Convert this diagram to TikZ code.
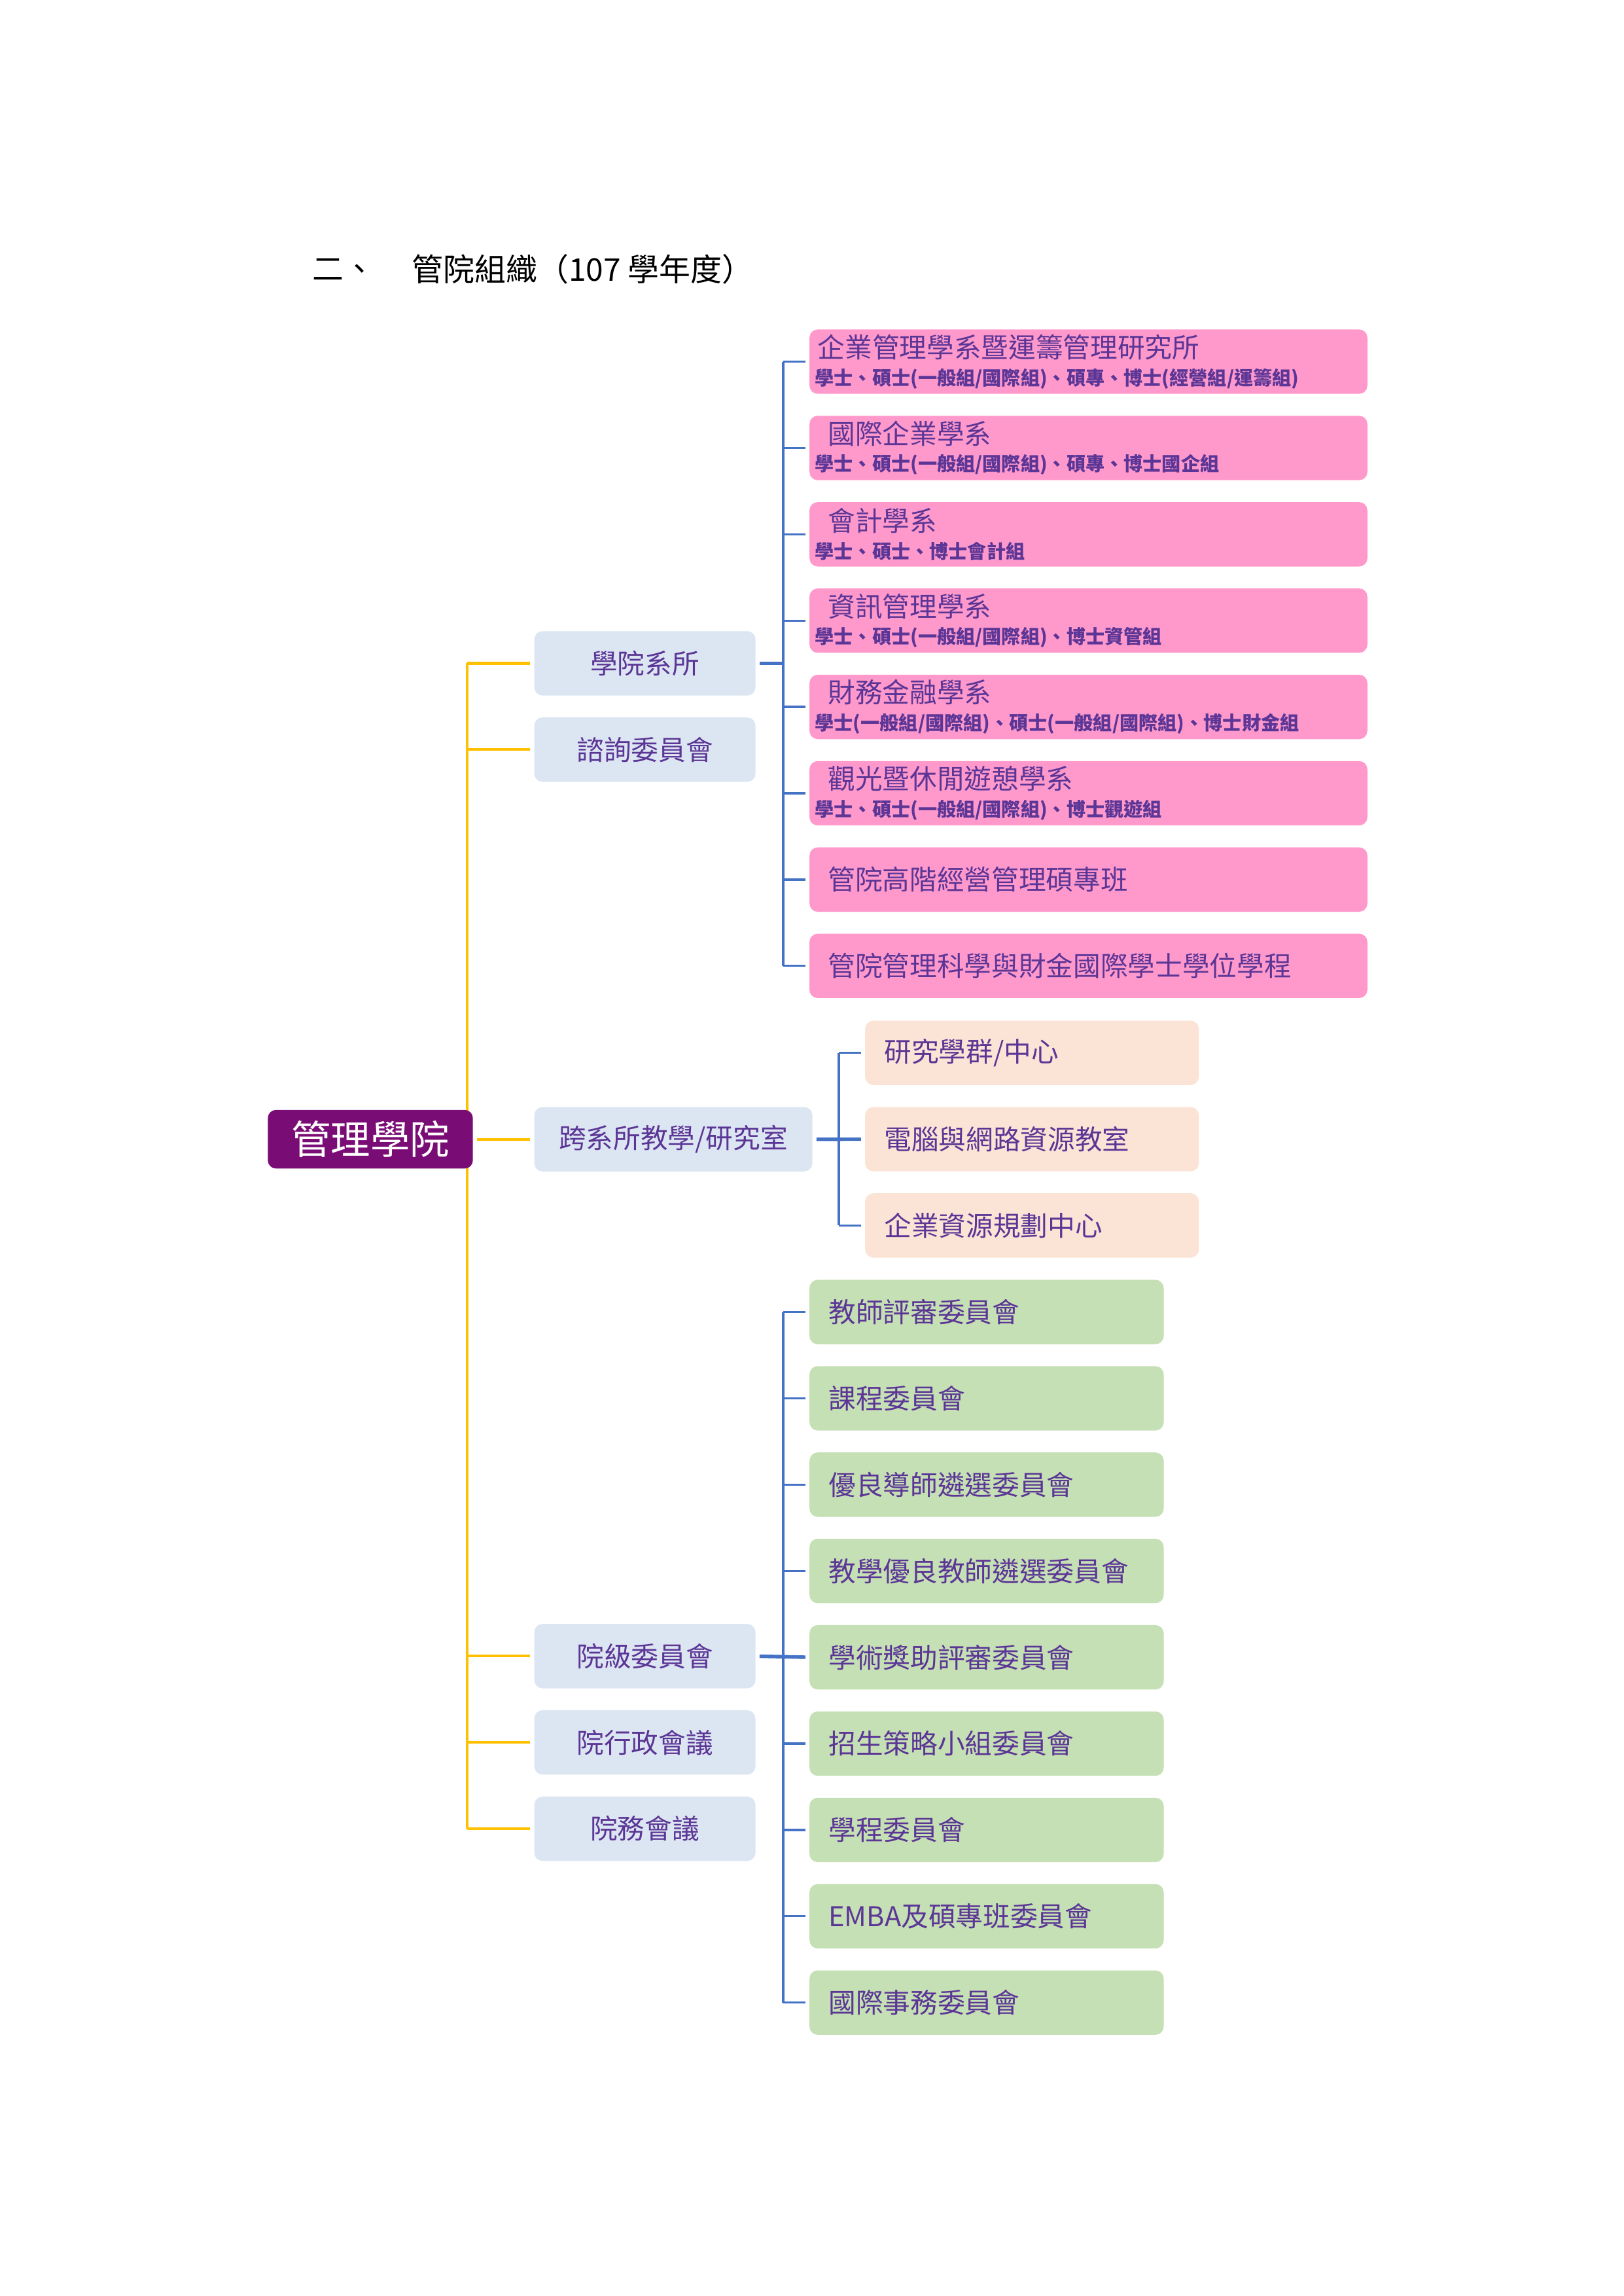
\documentclass[tikz,border=0pt]{standalone}
\usepackage{fontspec}
\setmainfont{Noto Sans CJK TC}
\usetikzlibrary{positioning, backgrounds}
\definecolor{deptpink}{RGB}{255,153,204}
\definecolor{unitgray}{RGB}{220,230,242}
\definecolor{labpeach}{RGB}{251,228,213}
\definecolor{cmtgreen}{RGB}{197,224,180}
\definecolor{rootpurple}{RGB}{122,12,118}
\definecolor{inkpurple}{RGB}{92,54,150}
\definecolor{trunkyellow}{RGB}{255,192,0}
\definecolor{linkblue}{RGB}{68,114,196}

\begin{document}
\begin{tikzpicture}[
  x=0.5369pt, y=-0.5369pt,
  node distance=8.05pt,
  box/.style={rounded corners=3pt, minimum height=23.6pt, inner ysep=1pt, outer sep=0pt, text=inkpurple, font=\fontsize{10}{12}\selectfont},
  root/.style={box, fill=rootpurple, text=white, minimum width=75.2pt, minimum height=21.5pt, font=\fontsize{14.5}{16}\selectfont},
  unit/.style={box, fill=unitgray, minimum width=81.1pt, align=center},
  dept/.style={box, fill=deptpink, inner xsep=2pt, text width=200.6pt, align=left},
  lab/.style={box, fill=labpeach, inner xsep=7pt, text width=108.4pt, align=left},
  cmt/.style={box, fill=cmtgreen, inner xsep=7pt, text width=115.9pt, align=left},
  heading/.style={anchor=west, inner sep=0pt, font=\fontsize{11.5}{14}\selectfont},
  ylink/.style={trunkyellow, line width=1pt},
  blink/.style={linkblue, line width=0.8pt},
  bmain/.style={linkblue, line width=1.3pt}
]
\useasboundingbox (0,0) rectangle (1109,1568);
\newcommand{\degs}[1]{\\[-2pt]{\fontsize{7}{8}\selectfont\bfseries #1}}

% heading
\node[heading] (secnum) at (213,184) {二、};
\node[heading] (sectitle) at (281,184) {管院組織（107 學年度）};

% second level
\node[unit, anchor=west] (acad) at (365,453) {學院系所};
\node[unit, below=of acad] (advis) {諮詢委員會};
\node[unit, anchor=west, minimum width=102pt] (cross) at (365,778) {跨系所教學/研究室};
\node[unit, anchor=west] (level) at (365,1131) {院級委員會};
\node[unit, below=of level] (admin) {院行政會議};
\node[unit, below=of admin] (wu) {院務會議};

% departments
\node[dept, anchor=north west] (d1) at (553,225) {\hspace*{1pt}企業管理學系暨運籌管理研究所\degs{學士、碩士(一般組/國際組)、碩專、博士(經營組/運籌組)}};
\node[dept, below=of d1] (d2) {\hspace*{4.8pt}國際企業學系\degs{學士、碩士(一般組/國際組)、碩專、博士國企組}};
\node[dept, below=of d2] (d3) {\hspace*{4.8pt}會計學系\degs{學士、碩士、博士會計組}};
\node[dept, below=of d3] (d4) {\hspace*{4.8pt}資訊管理學系\degs{學士、碩士(一般組/國際組)、博士資管組}};
\node[dept, below=of d4] (d5) {\hspace*{4.8pt}財務金融學系\degs{學士(一般組/國際組)、碩士(一般組/國際組)、博士財金組}};
\node[dept, below=of d5] (d6) {\hspace*{4.8pt}觀光暨休閒遊憩學系\degs{學士、碩士(一般組/國際組)、博士觀遊組}};
\node[dept, below=of d6] (d7) {\hspace*{4.8pt}管院高階經營管理碩專班};
\node[dept, below=of d7] (d8) {\hspace*{4.8pt}管院管理科學與財金國際學士學位學程};

% labs and centres
\node[lab, anchor=west] (p1) at (591,719) {研究學群/中心};
\node[lab, below=of p1] (p2) {電腦與網路資源教室};
\node[lab, below=of p2] (p3) {企業資源規劃中心};

% committees
\node[cmt, anchor=west] (g1) at (553,896) {教師評審委員會};
\node[cmt, below=of g1] (g2) {課程委員會};
\node[cmt, below=of g2] (g3) {優良導師遴選委員會};
\node[cmt, below=of g3] (g4) {教學優良教師遴選委員會};
\node[cmt, below=of g4] (g5) {學術獎助評審委員會};
\node[cmt, below=of g5] (g6) {招生策略小組委員會};
\node[cmt, below=of g6] (g7) {學程委員會};
\node[cmt, below=of g7] (g8) {EMBA及碩專班委員會};
\node[cmt, below=of g8] (g9) {國際事務委員會};

\node[root] (root) at (253,778) {管理學院};

\coordinate (tk) at (319,0);
\coordinate (bd) at (535,0);
\coordinate (bx) at (573,0);

\begin{scope}[on background layer]
% yellow trunk
\draw[ylink] (acad.west -| tk) -- (wu.west -| tk);
\draw[ylink, shorten >=1.6pt] (acad.west -| tk) -- (acad.west);
\draw[ylink, shorten >=1.6pt] (advis.west -| tk) -- (advis.west);
\draw[ylink, shorten <=1.6pt, shorten >=1.6pt] (root.east) -- (cross.west);
\draw[ylink, shorten >=1.6pt] (level.west -| tk) -- (level.west);
\draw[ylink, shorten >=1.6pt] (admin.west -| tk) -- (admin.west);
\draw[ylink, shorten >=1.6pt] (wu.west -| tk) -- (wu.west);

% departments
\draw[bmain, shorten <=1.5pt] (acad.east) -- (acad.east -| bd);
\draw[blink] (d1.west -| bd) -- (d8.west -| bd);
\draw[blink, shorten >=1.5pt] (d1.west -| bd) -- (d1.west);
\draw[blink, shorten >=1.5pt] (d2.west -| bd) -- (d2.west);
\draw[blink, shorten >=1.5pt] (d3.west -| bd) -- (d3.west);
\draw[blink, shorten >=1.5pt] (d4.west -| bd) -- (d4.west);
\draw[blink, shorten >=1.5pt] (d5.west -| bd) -- (d5.west);
\draw[blink, shorten >=1.5pt] (d6.west -| bd) -- (d6.west);
\draw[blink, shorten >=1.5pt] (d7.west -| bd) -- (d7.west);
\draw[blink, shorten >=1.5pt] (d8.west -| bd) -- (d8.west);

% labs
\draw[bmain, shorten <=1.5pt, shorten >=1.5pt] (cross.east) -- (p2.west);
\draw[blink] (p1.west -| bx) -- (p3.west -| bx);
\draw[blink, shorten >=1.5pt] (p1.west -| bx) -- (p1.west);
\draw[blink, shorten >=1.5pt] (p3.west -| bx) -- (p3.west);

% committees
\draw[bmain, shorten <=1.5pt, shorten >=1.5pt] (level.east) -- (g5.west);
\draw[blink] (g1.west -| bd) -- (g9.west -| bd);
\draw[blink, shorten >=1.5pt] (g1.west -| bd) -- (g1.west);
\draw[blink, shorten >=1.5pt] (g2.west -| bd) -- (g2.west);
\draw[blink, shorten >=1.5pt] (g3.west -| bd) -- (g3.west);
\draw[blink, shorten >=1.5pt] (g4.west -| bd) -- (g4.west);
\draw[blink, shorten >=1.5pt] (g6.west -| bd) -- (g6.west);
\draw[blink, shorten >=1.5pt] (g7.west -| bd) -- (g7.west);
\draw[blink, shorten >=1.5pt] (g8.west -| bd) -- (g8.west);
\draw[blink, shorten >=1.5pt] (g9.west -| bd) -- (g9.west);
\end{scope}
\end{tikzpicture}
\end{document}
